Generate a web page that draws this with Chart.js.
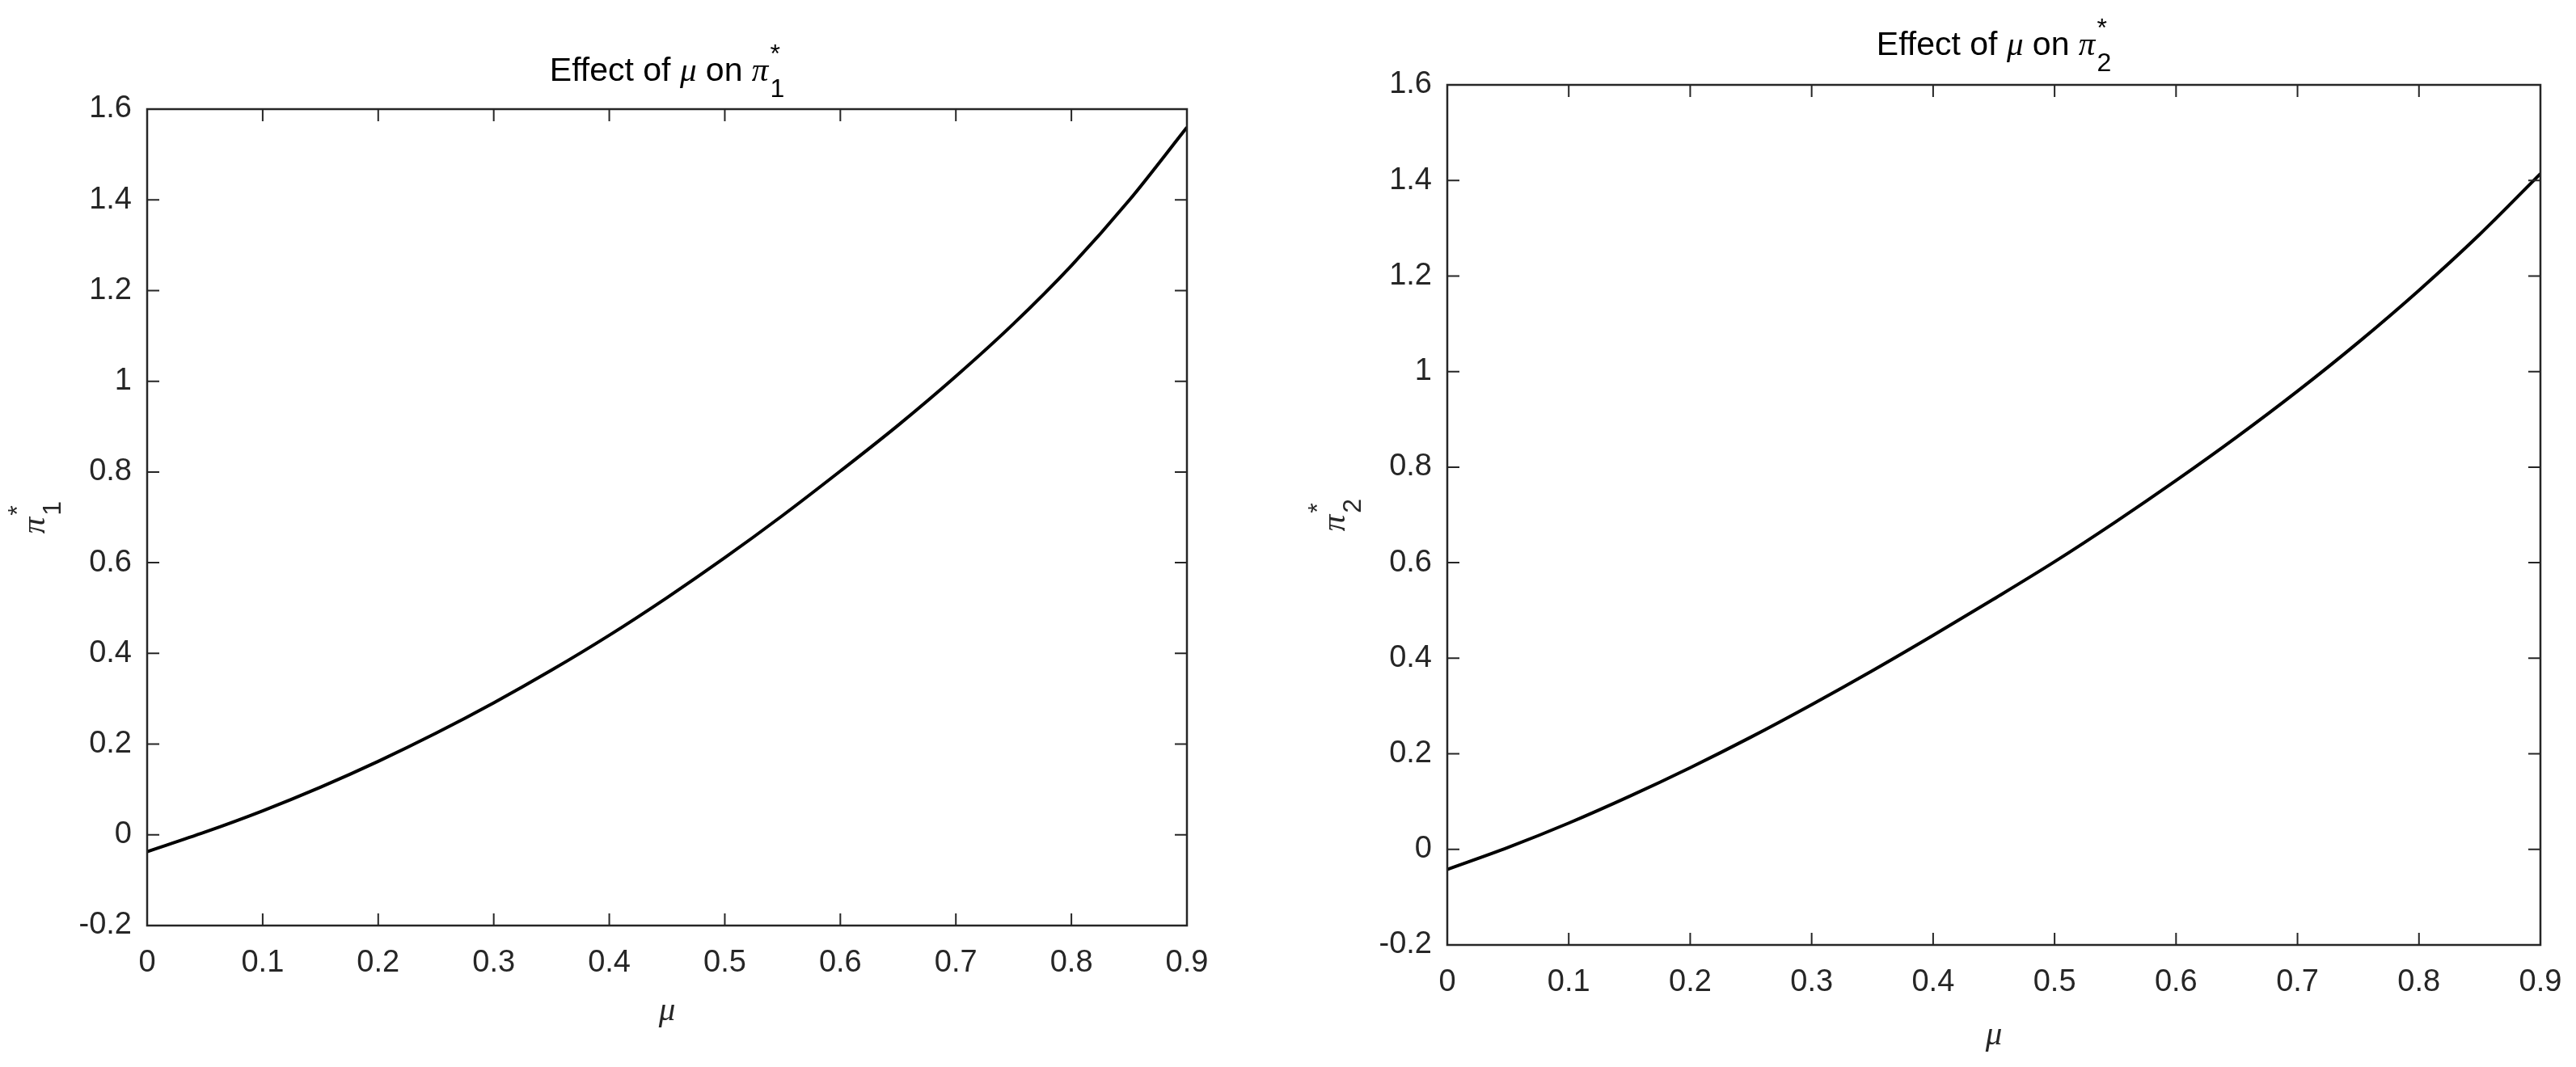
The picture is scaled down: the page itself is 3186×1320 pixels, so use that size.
<!DOCTYPE html>
<html>
<head>
<meta charset="utf-8">
<script src="https://cdn.jsdelivr.net/npm/chart.js@4.4.1/dist/chart.umd.min.js"></script>
<style>
html, body { margin: 0; padding: 0; background: #fff; }
#wrap { position: relative; width: 3186px; height: 1320px; }
canvas { position: absolute; top: 0; }
</style>
</head>
<body>
<div id="wrap">
  <canvas id="left" width="1600" height="1320" style="left:0px"></canvas>
  <canvas id="right" width="1586" height="1320" style="left:1600px"></canvas>
</div>
<script>
// values
const muValues = [0, 0.05, 0.1, 0.15, 0.2, 0.25, 0.3, 0.35, 0.4, 0.45, 0.5, 0.55, 0.6, 0.65, 0.7, 0.75, 0.8, 0.85, 0.9];
const pi1Values = [-0.037, 0.006, 0.053, 0.105, 0.162, 0.224, 0.291, 0.363, 0.440, 0.523, 0.611, 0.704, 0.802, 0.903, 1.011, 1.127, 1.255, 1.399, 1.560];
const pi2Values = [-0.042, 0.004, 0.055, 0.111, 0.171, 0.235, 0.303, 0.374, 0.448, 0.524, 0.602, 0.685, 0.772, 0.863, 0.959, 1.061, 1.170, 1.287, 1.414];

const xTicks = [0, 0.1, 0.2, 0.3, 0.4, 0.5, 0.6, 0.7, 0.8, 0.9];
const xTickLabels = ['0', '0.1', '0.2', '0.3', '0.4', '0.5', '0.6', '0.7', '0.8', '0.9'];
const yTicks = [-0.2, 0, 0.2, 0.4, 0.6, 0.8, 1, 1.2, 1.4, 1.6];
const yTickLabels = ['-0.2', '0', '0.2', '0.4', '0.6', '0.8', '1', '1.2', '1.4', '1.6'];

const SANS = '"Liberation Sans", Arial, Helvetica, sans-serif';
const GREEK = '"Liberation Serif", "DejaVu Serif", serif';
const AXIS_COLOR = '#262626';

// pi with a stacked * and subscript; returns width (draw=false only measures)
function piStar(ctx, x, y, sub, size, draw) {
    ctx.font = 'italic ' + size + 'px ' + GREEK;
    const w = ctx.measureText('π').width;
    if (draw) ctx.fillText('π', x, y);
    const s = Math.round(size * 0.78);
    ctx.font = s + 'px ' + SANS;
    const w2 = Math.max(ctx.measureText('*').width, ctx.measureText(sub).width);
    if (draw) {
        ctx.fillText('*', x + w + 2, y - size * 0.56);
        ctx.fillText(sub, x + w + 2, y + size * 0.49);
    }
    return w + 2 + w2;
}

function titleText(ctx, cx, y, sub, size) {
    const parts = [['Effect of ', size + 'px ' + SANS], ['μ', 'italic ' + size + 'px ' + GREEK], [' on ', size + 'px ' + SANS]];
    let total = 0;
    parts.forEach(p => { ctx.font = p[1]; total += ctx.measureText(p[0]).width; });
    total += piStar(ctx, 0, 0, sub, size, false);
    let x = cx - total / 2;
    parts.forEach(p => { ctx.font = p[1]; ctx.fillText(p[0], x, y); x += ctx.measureText(p[0]).width; });
    piStar(ctx, x, y, sub, size, true);
}

function makeChart(id, values, sub, box) {
    const canvas = document.getElementById(id);
    const W = canvas.width, H = canvas.height;

    const framePlugin = {
        id: 'frame',
        afterDraw(chart) {
            const ctx = chart.ctx;
            const a = chart.chartArea;
            const xs = chart.scales.x, ys = chart.scales.y;
            ctx.save();
            ctx.strokeStyle = AXIS_COLOR;
            ctx.lineWidth = 2.5;
            ctx.strokeRect(a.left, a.top, a.right - a.left, a.bottom - a.top);
            ctx.lineWidth = 2;
            ctx.beginPath();
            xTicks.forEach(v => {
                const px = xs.getPixelForValue(v);
                ctx.moveTo(px, a.bottom); ctx.lineTo(px, a.bottom - 15);
                ctx.moveTo(px, a.top); ctx.lineTo(px, a.top + 15);
            });
            yTicks.forEach(v => {
                const py = ys.getPixelForValue(v);
                ctx.moveTo(a.left, py); ctx.lineTo(a.left + 15, py);
                ctx.moveTo(a.right, py); ctx.lineTo(a.right - 15, py);
            });
            ctx.stroke();

            ctx.fillStyle = '#000';
            ctx.textBaseline = 'alphabetic';
            ctx.textAlign = 'left';
            const cx = (a.left + a.right) / 2;
            titleText(ctx, cx, a.top - box.titleGap, sub, 41);

            // x label
            ctx.fillStyle = AXIS_COLOR;
            ctx.font = 'italic 41px ' + GREEK;
            ctx.textAlign = 'center';
            ctx.fillText('μ', cx, a.bottom + box.xlabelGap);

            // y label, rotated
            ctx.textAlign = 'left';
            ctx.translate(a.left - 127, (a.top + a.bottom) / 2);
            ctx.rotate(-Math.PI / 2);
            const w = piStar(ctx, 0, 0, sub, 41, false);
            piStar(ctx, -w / 2, 0, sub, 41, true);
            ctx.restore();
        }
    };

    return new Chart(canvas, {
        type: 'line',
        data: {
            datasets: [{
                data: muValues.map((m, i) => ({ x: m, y: values[i] })),
                borderColor: '#000',
                borderWidth: 4,
                pointRadius: 0,
                fill: false,
                cubicInterpolationMode: 'monotone'
            }]
        },
        options: {
            responsive: false,
            animation: false,
            devicePixelRatio: 1,
            layout: { padding: { left: 0, top: box.top, right: W - box.right, bottom: 0 } },
            plugins: { legend: { display: false }, tooltip: { enabled: false }, title: { display: false } },
            scales: {
                x: {
                    type: 'linear', min: 0, max: 0.9,
                    grid: { display: false, drawTicks: false },
                    border: { display: false },
                    afterBuildTicks: s => { s.ticks = xTicks.map(v => ({ value: v })); },
                    afterFit: s => { s.height = H - box.bottom; s.paddingLeft = 0; s.paddingRight = 0; },
                    ticks: {
                        autoSkip: false, maxRotation: 0, padding: 24, color: AXIS_COLOR,
                        font: { family: SANS, size: 38 },
                        callback: (v, i) => xTickLabels[i]
                    }
                },
                y: {
                    type: 'linear', min: -0.2, max: 1.6,
                    grid: { display: false, drawTicks: false },
                    border: { display: false },
                    afterBuildTicks: s => { s.ticks = yTicks.map(v => ({ value: v })); },
                    afterFit: s => { s.width = box.left; s.paddingTop = 0; s.paddingBottom = 0; },
                    ticks: {
                        autoSkip: false, padding: 19, color: AXIS_COLOR,
                        font: { family: SANS, size: 38 },
                        callback: (v, i) => yTickLabels[i]
                    }
                }
            }
        },
        plugins: [framePlugin]
    });
}

makeChart('left', pi1Values, '1', { left: 182, right: 1468, top: 135, bottom: 1145, titleGap: 35, xlabelGap: 117 });
makeChart('right', pi2Values, '2', { left: 190, right: 1542, top: 105, bottom: 1169, titleGap: 37, xlabelGap: 123 });
</script>
</body>
</html>
